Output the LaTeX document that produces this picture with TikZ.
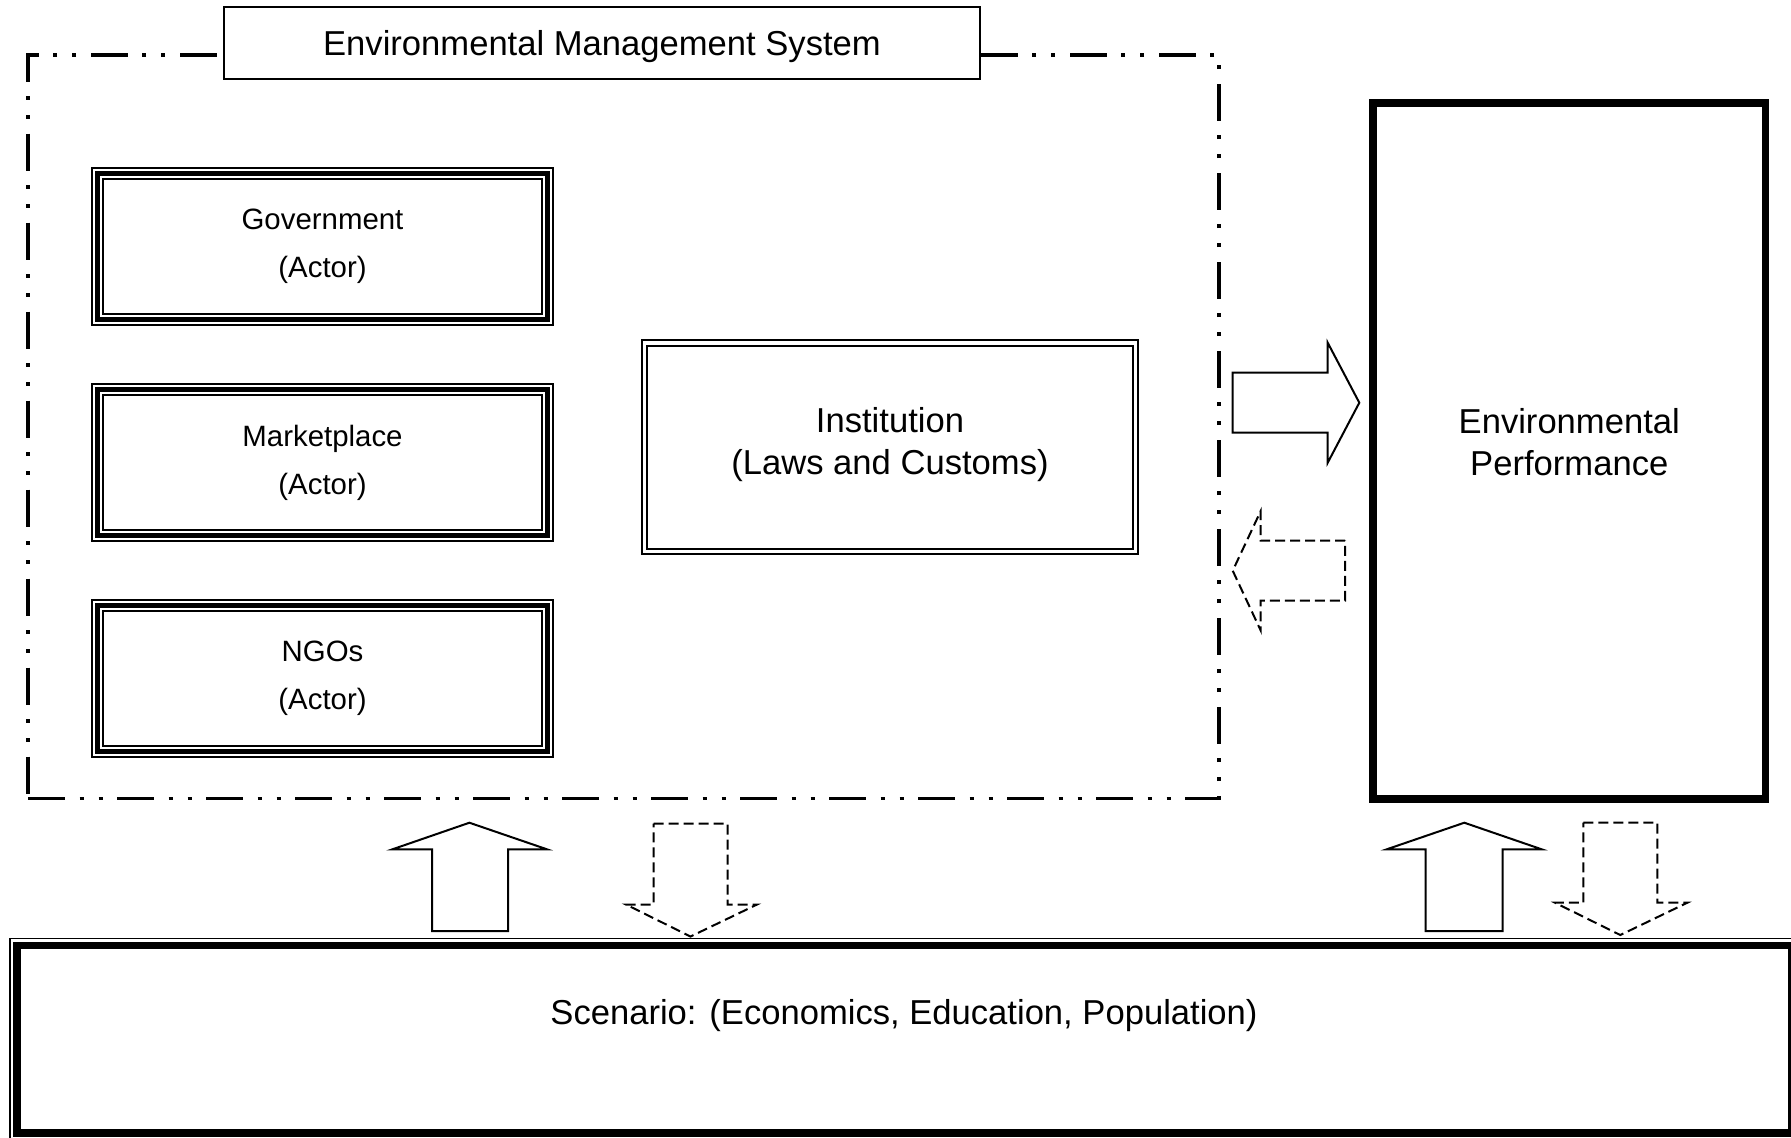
\documentclass[tikz,border=0pt]{standalone}
\usepackage{fontspec}
\setmainfont{Liberation Sans}
\begin{document}
\begin{tikzpicture}[x=0.5pt,y=-0.5pt,
  big/.style={font=\fontsize{17.3}{21}\selectfont},
  small/.style={font=\fontsize{14.7}{24}\selectfont},
  emsline/.style={draw, line width=1.9pt, outer sep=0pt, inner sep=0pt,
    dash pattern=on 18.5pt off 7.25pt on 2pt off 7.5pt on 2pt off 7.25pt},
  titlebox/.style={draw, fill=white, line width=1pt, outer sep=0pt, inner sep=0pt,
    minimum width=378pt, minimum height=36pt},
  actorbox/.style={draw, line width=2.5pt, outer sep=0pt, inner sep=0pt,
    minimum width=225pt, minimum height=73pt, align=center, small},
  thinline/.style={line width=1pt},
  instbox/.style={draw, line width=1pt, double=white, double distance=1.75pt,
    outer sep=0pt, inner sep=0pt, minimum width=245.3pt, minimum height=104.35pt},
  perfbox/.style={draw, line width=3.85pt, outer sep=0pt, inner sep=0pt,
    minimum width=196.25pt, minimum height=348.1pt},
  scenbox/.style={draw, line width=3.7pt, outer sep=0pt, inner sep=0pt,
    minimum width=887.2pt, minimum height=93.75pt},
  boxtext/.style={big, align=center, inner sep=0pt},
  solidarrow/.style={draw, fill=white, line width=1pt, line join=miter},
  dasharrow/.style={draw, line width=1pt, line join=miter, dash pattern=on 5pt off 2.5pt},
]
\useasboundingbox (0,0) rectangle (1791,1137);
\clip (0,0) rectangle (1791,1137);
\fill[white] (0,0) rectangle (1791,1137);

% Environmental management system frame and title
\node[emsline, minimum width=595.5pt, minimum height=371.75pt] (ems) at (623.5,426.75) {};
\node[titlebox] (title) at (602,42.7) {};
\node[boxtext] (titletext) at (602,47) {Environmental Management System};

% actors
\node[actorbox] (gov) at (322.5,246.5) {Government\\(Actor)};
\node[actorbox] (mkt) at (322.5,462.8) {Marketplace\\(Actor)};
\node[actorbox] (ngo) at (322.5,678.6) {NGOs\\(Actor)};
\foreach \n in {gov,mkt,ngo}{
  \draw[thinline] ([shift={(-2.75pt,2.75pt)}]\n.north west) rectangle ([shift={(2.75pt,-2.75pt)}]\n.south east);
  \draw[thinline] ([shift={(2.75pt,-2.75pt)}]\n.north west) rectangle ([shift={(-2.75pt,2.75pt)}]\n.south east);
}

% institution
\node[instbox] (inst) at (890,447.2) {};
\node[boxtext] (insttext) at (890,445) {Institution\\(Laws and Customs)};

% environmental performance
\node[perfbox] (perf) at (1569.25,450.9) {};
\node[boxtext] (perftext) at (1569.25,442.3) {Environmental\\Performance};

% scenario
\node[scenbox] (scen) at (904.2,1039.25) {};
\draw[line width=0.75pt] ([shift={(-3.5pt,3.5pt)}]scen.north west) rectangle ([shift={(3.5pt,-3.5pt)}]scen.south east);
\node[boxtext] (scentext) at (904,1015.5) {Scenario: (Economics, Education, Population)};

% arrows between system and performance
\draw[solidarrow] (1232.7,372.7) -- (1327.7,372.7) -- (1327.7,342.7) -- (1359.3,402.7)
  -- (1327.7,462.7) -- (1327.7,432.7) -- (1232.7,432.7) -- cycle;
\draw[dasharrow] (1345,540.7) -- (1260.7,540.7) -- (1260.7,511) -- (1232.7,570.7)
  -- (1260.7,630.5) -- (1260.7,600.7) -- (1345,600.7) -- cycle;

% arrows between scenario and system
\draw[solidarrow] (432,931) -- (432,849.3) -- (392.4,849.3) -- (469.4,822.7)
  -- (547,849.3) -- (508,849.3) -- (508,931) -- cycle;
\draw[dasharrow] (653.5,823.5) -- (727.5,823.5) -- (727.5,904.5) -- (757,904.5)
  -- (690.5,936.5) -- (626,904.5) -- (653.5,904.5) -- cycle;

% arrows between scenario and performance
\draw[solidarrow] (1425.7,931) -- (1425.7,849.3) -- (1386.7,849.3) -- (1464.3,822.7)
  -- (1541.7,849.3) -- (1502.7,849.3) -- (1502.7,931) -- cycle;
\draw[dasharrow] (1583.3,822.7) -- (1657.3,822.7) -- (1657.3,902.7) -- (1687.3,902.7)
  -- (1620.3,935) -- (1555,902.7) -- (1583.3,902.7) -- cycle;
\end{tikzpicture}
\end{document}
